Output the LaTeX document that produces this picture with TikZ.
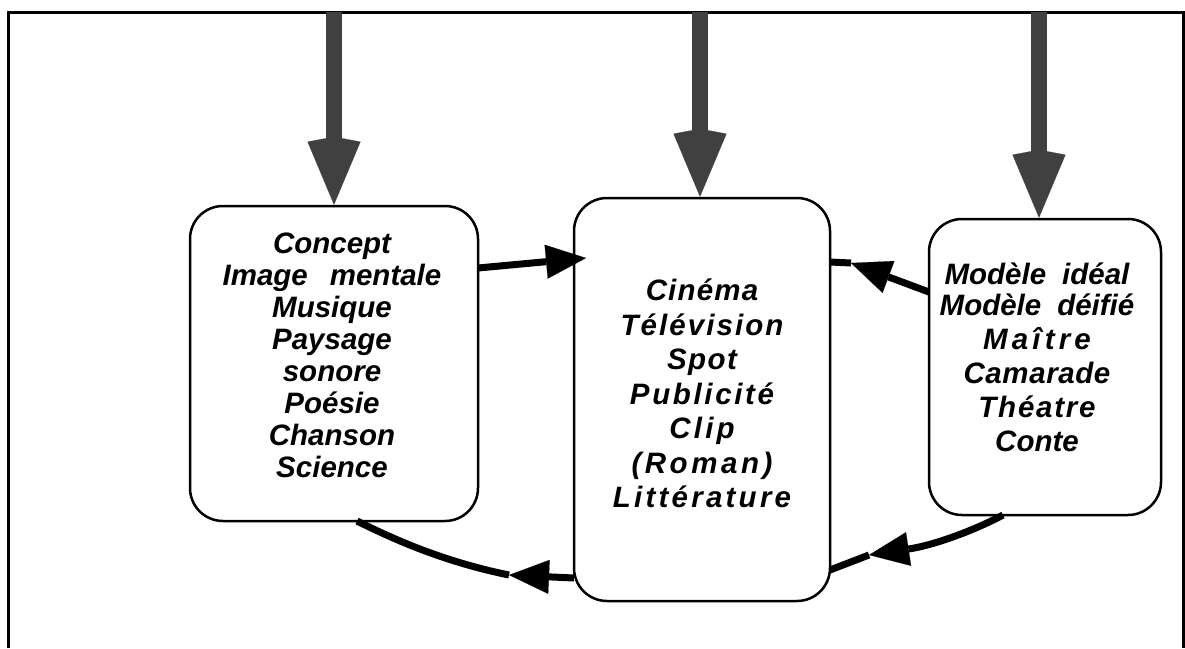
\documentclass[tikz,border=0pt]{standalone}
\usepackage{fontspec}
\setmainfont{Liberation Sans}
\usetikzlibrary{arrows.meta,calc}
\definecolor{garr}{HTML}{404040}
\newcommand\lsp[2]{{\addfontfeature{LetterSpace=#1}#2}}
\begin{document}
\begin{tikzpicture}[x=1pt,y=-1pt,
  box/.style={draw,line width=2.5pt,rounded corners=33pt,inner sep=0pt},
  txt/.style={align=center,inner sep=0pt},
  garrow/.style={draw=garr,line width=16pt,-{Kite[length=68pt,width=53pt,inset=5pt,line width=0.1pt]}},
  conn/.style={line width=7pt},
  tip/.style={-{Triangle[length=40pt,width=34pt,line width=0.1pt]}}]
\useasboundingbox (0,0) rectangle (1185,648);
\draw[line width=3pt] (8,648) -- (8,12) -- (1183,12) -- (1183,648);
% boxes
\node[box,minimum width=288pt,minimum height=315pt] (lb) at (334,363.5) {};
\node[box,minimum width=256pt,minimum height=403pt] (cb) at (702,399.5) {};
\node[box,minimum width=232pt,minimum height=296pt] (rb) at (1045,367) {};
% texts
\node[txt,font=\fontsize{29.5}{32}\selectfont\bfseries\itshape] (lt) at (332,355)
  {Concept\\Image\hspace{22pt}mentale\\Musique\\Paysage\\sonore\\Poésie\\Chanson\\Science};
\node[txt,font=\fontsize{29.5}{34.5}\selectfont\bfseries\itshape] (ct) at (702,393.5)
  {\lsp{4}{Cinéma}\\\lsp{7}{Télévision}\\\lsp{5}{Spot}\\\lsp{9}{Publicité}\\\lsp{11}{Clip}\\\lsp{12}{(Roman)}\\\lsp{11}{Littérature}};
\node[txt,font=\fontsize{29.5}{34}\selectfont\bfseries\itshape] (rt) at (1037,357)
  {Modèle\hspace{16pt}idéal\\[-3pt]Modèle\hspace{16pt}déifié\\\lsp{14}{Maître}\\\lsp{2}{Camarade}\\\lsp{6}{Théatre}\\Conte};
% gray arrows
\coordinate (g1) at (334,12);
\coordinate (g2) at (700,12);
\coordinate (g3) at (1039,12);
\draw[garrow] (g1) -- (lb.north);
\draw[garrow] (g2) -- ($(cb.north)+(-2,0)$);
\draw[garrow] (g3) -- ($(rb.north)+(-6,0)$);
% black connectors
\coordinate (a1) at (478,268);
\coordinate (t1) at (586,258);
\draw[conn,tip] (a1) -- (t1);
\coordinate (a2) at (929,292);
\coordinate (t2) at (851,263);
\coordinate (e2) at (830,262);
\draw[conn,tip] (a2) -- (t2);
\draw[conn] (t2) -- (e2);
\coordinate (a3) at (574,578);
\coordinate (t3) at (509,575);
\coordinate (e3) at (357,521);
\draw[conn,tip] (a3) -- (t3);
\draw[conn] (t3) .. controls (445,562) and (395,540) .. (e3);
\coordinate (a4) at (1003,515);
\coordinate (t4) at (869,555);
\coordinate (e4) at (830,570);
\draw[conn,tip] (a4) .. controls (975,530) and (935,545) .. (t4);
\draw[conn] (t4) -- (e4);
\end{tikzpicture}
\end{document}
